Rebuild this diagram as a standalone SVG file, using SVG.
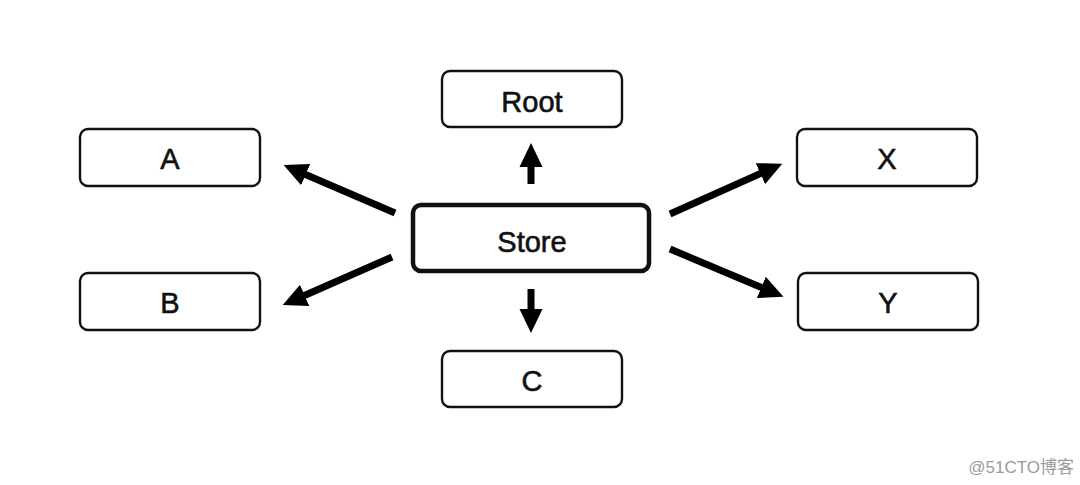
<svg xmlns="http://www.w3.org/2000/svg" width="1080" height="485" viewBox="0 0 1080 485">
<style>
.box{fill:#fff;stroke:#111;stroke-width:2.4}
.main{fill:#fff;stroke:#111;stroke-width:4.5}
.lbl{font-family:"Liberation Sans",Arial,sans-serif;font-size:29px;fill:#111;stroke:#111;stroke-width:0.6;text-anchor:middle}
.edge{stroke:#000;stroke-width:7;fill:none;marker-end:url(#ah)}
.wm{font-family:"Liberation Sans","Noto Sans CJK SC",sans-serif;font-size:17px;fill:#9a9a9a;text-anchor:end}
</style>
<defs>
<marker id="ah" markerUnits="userSpaceOnUse" markerWidth="26" markerHeight="26" viewBox="0 0 26 26" refX="4" refY="13" orient="auto">
<path d="M0,1.5 L24,13 L0,24.5 Z" fill="#000"/>
</marker>
</defs>
<rect width="1080" height="485" fill="#fff"/>
<g id="connectors">
<line class="edge" x1="531" y1="184" x2="531" y2="163"/>
<line class="edge" x1="531" y1="289" x2="531" y2="313"/>
<line class="edge" x1="395" y1="213" x2="302" y2="173"/>
<line class="edge" x1="392" y1="257" x2="301" y2="297"/>
<line class="edge" x1="670" y1="214" x2="764" y2="172"/>
<line class="edge" x1="670" y1="249" x2="765" y2="289"/>
</g>
<g id="root"><rect class="box" x="442" y="71" width="180" height="56" rx="8"/><text class="lbl" x="532" y="112">Root</text></g>
<g id="a"><rect class="box" x="80" y="129" width="180" height="57" rx="8"/><text class="lbl" x="170" y="169">A</text></g>
<g id="x"><rect class="box" x="797" y="129" width="180" height="57" rx="8"/><text class="lbl" x="887" y="169">X</text></g>
<g id="store"><rect class="main" x="413" y="205" width="236" height="66" rx="8"/><text class="lbl" x="532" y="252">Store</text></g>
<g id="b"><rect class="box" x="80" y="273" width="180" height="57" rx="8"/><text class="lbl" x="170" y="313">B</text></g>
<g id="y"><rect class="box" x="798" y="273" width="180" height="57" rx="8"/><text class="lbl" x="888" y="313">Y</text></g>
<g id="c"><rect class="box" x="442" y="351" width="180" height="56" rx="8"/><text class="lbl" x="532" y="391">C</text></g>
<text class="wm" x="1074" y="473">@51CTO博客</text>
</svg>
